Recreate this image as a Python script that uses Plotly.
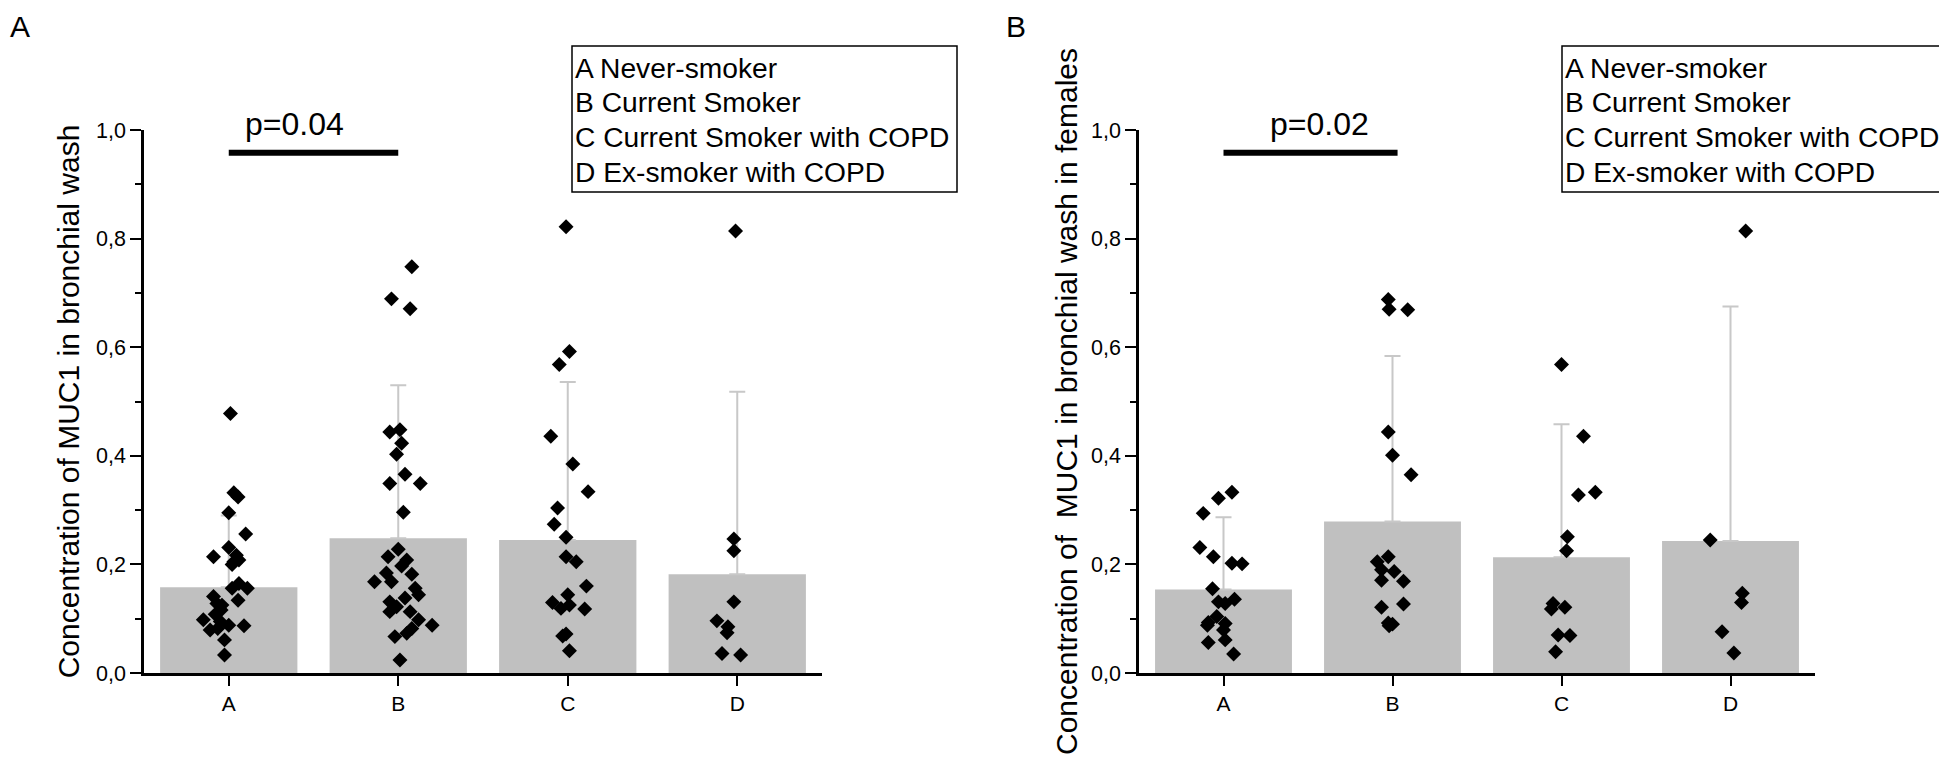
import plotly.graph_objects as go

# groups on the x axis
groups = ["A", "B", "C", "D"]
legend_lines = ["A Never-smoker", "B Current Smoker", "C Current Smoker with COPD", "D Ex-smoker with COPD"]
ytick_vals = [0, 0.2, 0.4, 0.6, 0.8, 1.0]
ytick_text = ["0,0", "0,2", "0,4", "0,6", "0,8", "1,0"]

# panel A - all subjects (bar = mean, error = SD)
a_mean = [0.158, 0.248, 0.245, 0.182]
a_sd = [0.132, 0.282, 0.291, 0.336]
a_pval = "p=0.04"

# individual values (y) and horizontal jitter
a_A = [0.478, 0.332, 0.324, 0.295, 0.256, 0.214, 0.231, 0.217, 0.205, 0.208, 0.200, 0.156, 0.156, 0.165,
       0.134, 0.141, 0.128, 0.125, 0.116, 0.108, 0.098, 0.095, 0.088, 0.087, 0.079, 0.082, 0.061, 0.033]
a_A_jit = [0.01, 0.03, 0.055, 0.0, 0.10, -0.09, 0.0, 0.045, 0.03, 0.06, 0.02, 0.11, 0.02, 0.06,
           0.055, -0.09, -0.07, -0.04, -0.045, -0.08, -0.15, -0.05, 0.0, 0.09, -0.11, -0.065, -0.025, -0.025]
a_B = [0.748, 0.689, 0.671, 0.444, 0.448, 0.423, 0.403, 0.366, 0.349, 0.349, 0.296, 0.228, 0.214, 0.208,
       0.197, 0.184, 0.182, 0.168, 0.168, 0.156, 0.144, 0.131, 0.138, 0.122, 0.113, 0.113, 0.098, 0.088,
       0.082, 0.067, 0.073, 0.024]
a_B_jit = [0.08, -0.04, 0.07, -0.05, 0.01, 0.02, -0.01, 0.04, -0.05, 0.13, 0.03, 0.0, -0.06, 0.05,
           0.02, -0.07, 0.08, -0.14, -0.04, 0.10, 0.12, -0.05, 0.04, -0.01, -0.05, 0.07, 0.12, 0.20,
           0.08, -0.02, 0.05, 0.01]
a_C = [0.822, 0.592, 0.568, 0.436, 0.385, 0.334, 0.304, 0.274, 0.250, 0.214, 0.205, 0.160, 0.144, 0.130,
       0.119, 0.125, 0.118, 0.072, 0.068, 0.041]
a_C_jit = [-0.01, 0.01, -0.05, -0.10, 0.03, 0.12, -0.06, -0.08, -0.01, -0.01, 0.05, 0.11, 0.0, -0.09,
           -0.04, 0.01, 0.10, -0.01, -0.03, 0.01]
a_D = [0.814, 0.247, 0.225, 0.131, 0.096, 0.085, 0.074, 0.036, 0.033]
a_D_jit = [-0.01, -0.02, -0.02, -0.02, -0.12, -0.055, -0.06, -0.09, 0.02]

# panel B - females only
b_mean = [0.154, 0.279, 0.213, 0.243]
b_sd = [0.133, 0.305, 0.245, 0.432]
b_pval = "p=0.02"

b_A = [0.333, 0.322, 0.294, 0.231, 0.214, 0.202, 0.201, 0.155, 0.136, 0.128, 0.131, 0.104, 0.093, 0.091,
       0.088, 0.079, 0.061, 0.056, 0.035]
b_A_jit = [0.05, -0.03, -0.12, -0.14, -0.06, 0.05, 0.11, -0.065, 0.065, 0.01, -0.03, -0.04, -0.09, 0.01,
           -0.095, 0.0, 0.01, -0.09, 0.06]
b_B = [0.688, 0.670, 0.669, 0.444, 0.401, 0.365, 0.214, 0.205, 0.190, 0.187, 0.171, 0.169, 0.121, 0.127,
       0.092, 0.090, 0.087]
b_B_jit = [-0.025, -0.02, 0.09, -0.025, 0.0, 0.11, -0.025, -0.09, -0.065, 0.01, -0.065, 0.065, -0.065, 0.065,
           -0.025, 0.0, -0.02]
b_C = [0.568, 0.436, 0.328, 0.333, 0.251, 0.225, 0.128, 0.121, 0.118, 0.070, 0.069, 0.039]
b_C_jit = [0.0, 0.13, 0.10, 0.20, 0.035, 0.03, -0.05, 0.02, -0.06, -0.02, 0.05, -0.035]
b_D = [0.814, 0.245, 0.147, 0.130, 0.076, 0.037]
b_D_jit = [0.09, -0.12, 0.07, 0.065, -0.05, 0.02]

FONT = "Liberation Sans, Arial, sans-serif"
# the page body keeps its 8px margin, so the figure starts 8px in from the window corner
OFF = 8
W, H = 1947 - OFF, 763 - OFF


def px(x):   # window pixel -> paper x
    return (x - OFF) / W


def py(y):   # window pixel -> paper y
    return 1 - (y - OFF) / H


fig = go.Figure()


def add_panel(fig, xa, ya, mean, sd, points):
    # grey bars with upper SD only
    fig.add_trace(go.Bar(x=[0, 1, 2, 3], y=mean, width=0.81, marker=dict(color="#c0c0c0", line=dict(width=0)),
                         error_y=dict(type="data", symmetric=False, array=sd, arrayminus=[0] * 4,
                                      color="#c8c8c8", thickness=2, width=8),
                         xaxis=xa, yaxis=ya, showlegend=False))
    # black diamonds for each subject
    for i, (vals, jit) in enumerate(points):
        fig.add_trace(go.Scatter(x=[i + j for j in jit], y=vals, mode="markers",
                                 marker=dict(symbol="diamond", size=11.5, color="black", line=dict(width=0)),
                                 xaxis=xa, yaxis=ya, showlegend=False, cliponaxis=False))


add_panel(fig, "x", "y", a_mean, a_sd, [(a_A, a_A_jit), (a_B, a_B_jit), (a_C, a_C_jit), (a_D, a_D_jit)])
add_panel(fig, "x2", "y2", b_mean, b_sd, [(b_A, b_A_jit), (b_B, b_B_jit), (b_C, b_C_jit), (b_D, b_D_jit)])

xax = dict(range=[-0.5, 3.5], tickvals=[0, 1, 2, 3], ticktext=groups, showline=True, linecolor="black",
           linewidth=2.5, ticks="outside", ticklen=10, tickwidth=2, tickcolor="black", showgrid=False,
           zeroline=False, automargin=False, tickfont=dict(size=21, family=FONT, color="black"))
yax = dict(range=[0, 1], tickvals=ytick_vals, ticktext=ytick_text, showline=True, linecolor="black",
           linewidth=2.5, ticks="outside", ticklen=11, tickwidth=2, tickcolor="black", showgrid=False,
           zeroline=False, automargin=False, tickfont=dict(size=21.5, family=FONT, color="black"),
           minor=dict(dtick=0.1, ticks="outside", ticklen=6, tickwidth=2, tickcolor="black", showgrid=False))

ydom = [py(673), py(130)]
fig.update_layout(
    width=W, height=H,
    margin=dict(l=0, r=0, t=0, b=0),
    paper_bgcolor="white", plot_bgcolor="white",
    font=dict(family=FONT, color="black"),
    barmode="overlay",
    xaxis=dict(xax, domain=[px(144), px(822)], anchor="y"),
    yaxis=dict(yax, domain=ydom, anchor="x",
               title=dict(text="Concentration of MUC1 in bronchial wash", font=dict(size=30, family=FONT),
                          standoff=8)),
    xaxis2=dict(xax, domain=[px(1139), px(1815)], anchor="y2"),
    yaxis2=dict(yax, domain=ydom, anchor="x2",
                title=dict(text="Concentration of  MUC1 in bronchial wash in females",
                           font=dict(size=30, family=FONT), standoff=5)),
)

# significance bars and p-values (text sits a bit off the bar centre, as in the original)
for xr, yr, p, x1, xt in [("x", "y", a_pval, 1.0, 0.39), ("x2", "y2", b_pval, 1.03, 0.57)]:
    fig.add_shape(type="line", xref=xr, yref=yr, x0=0, x1=x1, y0=0.958, y1=0.958,
                  line=dict(color="black", width=6))
    fig.add_annotation(text=p, xref=xr, yref="paper", x=xt, y=py(124), showarrow=False,
                       xanchor="center", yanchor="middle", font=dict(size=32, family=FONT, color="black"))

# legend boxes drawn as text lines inside a rectangle
for left, right in [(572, 957), (1562, 1945)]:
    fig.add_shape(type="rect", xref="paper", yref="paper", x0=px(left), x1=px(right),
                  y0=py(192), y1=py(46), line=dict(color="black", width=1.5), fillcolor="rgba(0,0,0,0)")
    for k, line in enumerate(legend_lines):
        fig.add_annotation(text=line, xref="paper", yref="paper", x=px(left + 1), y=py(68 + 34.5 * k),
                           showarrow=False, xanchor="left", yanchor="middle",
                           font=dict(size=28.2, family=FONT, color="black"))

# panel letters (kept inside the figure's top edge)
for letter, xpos in [("A", 8), ("B", 1004)]:
    fig.add_annotation(text=letter, xref="paper", yref="paper", x=px(xpos), y=1, showarrow=False,
                       xanchor="left", yanchor="top", font=dict(size=30, family=FONT, color="black"))

fig.write_html("out.html")
